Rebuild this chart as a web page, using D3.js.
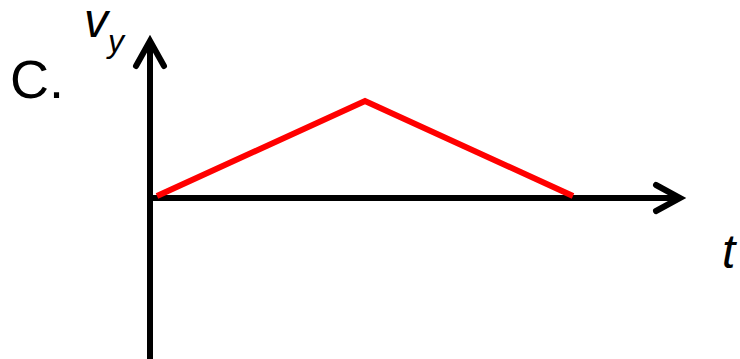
<!DOCTYPE html>
<html><head><meta charset="utf-8">
<script src="https://cdn.jsdelivr.net/npm/d3@7"></script>
<style>html,body{margin:0;padding:0;background:#fff;}svg{display:block;}</style>
</head><body>
<script>
const times = [0, 1, 2];
const vy = [0, 1, 0];
const panelLabel = "C.";
const yLabel = "v";
const ySub = "y";
const xLabel = "t";

const W = 740, H = 359;
const svg = d3.select("body").append("svg").attr("width", W).attr("height", H);
const x = d3.scaleLinear().domain([0, 2]).range([157, 573]);
const y = d3.scaleLinear().domain([0, 1]).range([196, 101]);

const axisX = 150, axisY = 198;
// axes
svg.append("line").attr("x1", axisX).attr("x2", axisX).attr("y1", H).attr("y2", 41)
  .attr("stroke", "#000").attr("stroke-width", 6);
svg.append("line").attr("x1", axisX).attr("x2", 679).attr("y1", axisY).attr("y2", axisY)
  .attr("stroke", "#000").attr("stroke-width", 6);
// arrowheads
svg.append("path").attr("d", `M${axisX-14},${66} L${axisX},${41} L${axisX+14},${66}`)
  .attr("fill", "none").attr("stroke", "#000").attr("stroke-width", 6)
  .attr("stroke-linecap", "round").attr("stroke-linejoin", "miter");
svg.append("path").attr("d", `M${656},${axisY-13} L${680},${axisY} L${656},${axisY+13}`)
  .attr("fill", "none").attr("stroke", "#000").attr("stroke-width", 6)
  .attr("stroke-linecap", "round").attr("stroke-linejoin", "miter");

// data line
const line = d3.line().x((d, i) => x(times[i])).y(d => y(d));
svg.append("path").datum(vy).attr("d", line)
  .attr("fill", "none").attr("stroke", "#ff0000").attr("stroke-width", 6)
  .attr("stroke-linejoin", "miter");

// labels
svg.append("text").attr("x", 10).attr("y", 98).text(panelLabel)
  .attr("font-family", "Liberation Sans, Arial, sans-serif").attr("font-size", 54).attr("fill", "#000");
const yl = svg.append("text").attr("x", 84).attr("y", 37)
  .attr("font-family", "Liberation Sans, Arial, sans-serif").attr("font-style", "italic")
  .attr("font-size", 48).attr("fill", "#000");
yl.append("tspan").text(yLabel);
yl.append("tspan").attr("font-size", 32).attr("dy", 15).text(ySub);
svg.append("text").attr("x", 722).attr("y", 268).text(xLabel)
  .attr("font-family", "Liberation Sans, Arial, sans-serif").attr("font-style", "italic")
  .attr("font-size", 48).attr("fill", "#000");
</script>
</body></html>
